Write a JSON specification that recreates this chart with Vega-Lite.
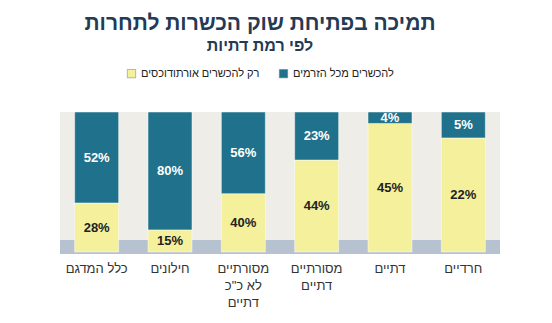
{
  "$schema": "https://vega.github.io/schema/vega-lite/v6.json",
  "width": 440,
  "height": 140,
  "autosize": "none",
  "padding": {"left": 60, "top": 112, "right": 52, "bottom": 71},
  "background": "white",
  "config": {
    "font": "Liberation Sans",
    "view": {"fill": "#efede8", "stroke": null}
  },
  "title": {
    "text": "תמיכה בפתיחת שוק הכשרות לתחרות",
    "subtitle": "לפי רמת דתיות",
    "anchor": "middle",
    "frame": "group",
    "dx": -20,
    "fontSize": 21,
    "fontWeight": "bold",
    "color": "#243a55",
    "subtitleFontSize": 16,
    "subtitleFontWeight": "bold",
    "subtitleColor": "#243a55",
    "subtitlePadding": 4,
    "offset": 14
  },
  "data": {
    "values": [
      {"cat": "כלל המדגם", "series": "רק להכשרים אורתודוכסים", "ord": 1, "value": 28},
      {"cat": "כלל המדגם", "series": "להכשרים מכל הזרמים", "ord": 2, "value": 52},
      {"cat": "חילונים", "series": "רק להכשרים אורתודוכסים", "ord": 1, "value": 15},
      {"cat": "חילונים", "series": "להכשרים מכל הזרמים", "ord": 2, "value": 80},
      {"cat": "מסורתיים|לא כ\"כ|דתיים", "series": "רק להכשרים אורתודוכסים", "ord": 1, "value": 40},
      {"cat": "מסורתיים|לא כ\"כ|דתיים", "series": "להכשרים מכל הזרמים", "ord": 2, "value": 56},
      {"cat": "מסורתיים|דתיים", "series": "רק להכשרים אורתודוכסים", "ord": 1, "value": 44},
      {"cat": "מסורתיים|דתיים", "series": "להכשרים מכל הזרמים", "ord": 2, "value": 23},
      {"cat": "דתיים", "series": "רק להכשרים אורתודוכסים", "ord": 1, "value": 45},
      {"cat": "דתיים", "series": "להכשרים מכל הזרמים", "ord": 2, "value": 4},
      {"cat": "חרדיים", "series": "רק להכשרים אורתודוכסים", "ord": 1, "value": 22},
      {"cat": "חרדיים", "series": "להכשרים מכל הזרמים", "ord": 2, "value": 5}
    ]
  },
  "transform": [
    {"stack": "value", "groupby": ["cat"], "sort": [{"field": "ord"}], "offset": "normalize", "as": ["y0", "y1"]},
    {"calculate": "(datum.y0 + datum.y1) / 2", "as": "mid"},
    {"calculate": "datum.value + '%'", "as": "label"}
  ],
  "layer": [
    {
      "mark": {"type": "rule", "color": "#b7c2d0", "strokeWidth": 14, "yOffset": -5},
      "encoding": {"y": {"datum": 0, "type": "quantitative", "scale": {"domain": [0, 1]}, "axis": null}}
    },
    {
      "mark": {"type": "bar", "stroke": "#ffffff", "strokeWidth": 0.5},
      "encoding": {
        "x": {
          "field": "cat",
          "type": "nominal",
          "sort": null,
          "scale": {"paddingInner": 0.4, "paddingOuter": 0.2},
          "axis": {
            "title": null,
            "labelAngle": 0,
            "ticks": false,
            "domain": false,
            "labelPadding": 10,
            "labelFontSize": 13,
            "labelColor": "#333333",
            "labelLineHeight": 17,
            "labelExpr": "split(datum.label, '|')"
          }
        },
        "y": {"field": "y0", "type": "quantitative", "scale": {"domain": [0, 1]}, "axis": null},
        "y2": {"field": "y1"},
        "color": {
          "field": "series",
          "type": "nominal",
          "sort": ["רק להכשרים אורתודוכסים", "להכשרים מכל הזרמים"],
          "scale": {"domain": ["רק להכשרים אורתודוכסים", "להכשרים מכל הזרמים"], "range": ["#f4f09c", "#1f718c"]},
          "legend": {
            "title": null,
            "orient": "none",
            "legendX": 66,
            "legendY": -44,
            "direction": "horizontal",
            "symbolType": "square",
            "symbolSize": 70,
            "symbolStrokeColor": "#777777",
            "symbolStrokeWidth": 0.5,
            "labelFontSize": 11,
            "labelColor": "#222222",
            "columnPadding": 18
          }
        }
      }
    },
    {
      "mark": {"type": "text", "fontSize": 13, "fontWeight": "bold"},
      "encoding": {
        "x": {"field": "cat", "type": "nominal", "sort": null},
        "y": {"field": "mid", "type": "quantitative", "scale": {"domain": [0, 1]}},
        "text": {"field": "label", "type": "nominal"},
        "color": {
          "condition": {"test": "datum.ord == 2", "value": "#ffffff"},
          "value": "#222222"
        }
      }
    }
  ]
}
